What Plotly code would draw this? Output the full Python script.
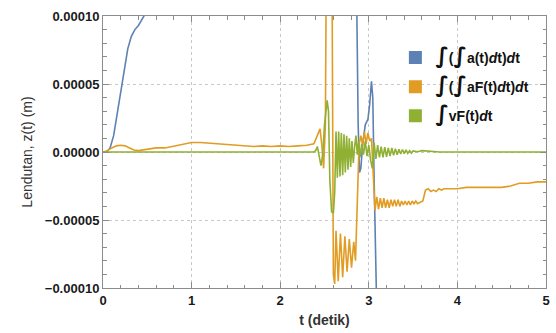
import plotly.graph_objects as go

# ---------------- data ----------------
t_blue = [0, 0.04, 0.08, 0.12, 0.16, 0.20, 0.24, 0.28, 0.32, 0.36, 0.40, 0.44, 0.48,
          0.55, 0.8, 1.5, 2.5, 2.8, 2.86, 2.88, 2.895, 2.91, 2.93, 2.96, 2.99, 3.01,
          3.03, 3.045, 3.06, 3.08, 3.1, 3.3, 5.0]
z_blue = [0, 0, 0.000003, 0.000012, 0.000028, 0.000045, 0.000062, 0.000076, 0.000085,
          0.00009, 0.000093, 0.000097, 0.000102, 0.00012, 0.0003, 0.0008, 0.0008, 0.0004,
          0.00013, 0.00002, -0.000015, -0.000012, 0.000005, 0.00002, 0.000024, 0.000035,
          0.000052, 0.00004, -0.00002, -0.0001, -0.0002, -0.0008, -0.0008]

t_orange = [0, 0.05, 0.1, 0.15, 0.2, 0.25, 0.3, 0.35, 0.4, 0.45, 0.5, 0.6, 0.7, 0.8, 0.9,
            1.0, 1.1, 1.2, 1.3, 1.4, 1.5, 1.6, 1.7, 1.8, 1.9, 2.0, 2.1, 2.2, 2.3, 2.38,
            2.42, 2.45, 2.47, 2.49, 2.51, 2.53, 2.56, 2.58, 2.6, 2.615, 2.63, 2.655, 2.68,
            2.705, 2.73, 2.755, 2.78, 2.805, 2.83, 2.85, 2.87, 2.89, 2.91, 2.93, 2.95,
            2.97, 2.99, 3.01, 3.03, 3.05, 3.07, 3.09, 3.11, 3.13, 3.15, 3.17, 3.19, 3.21,
            3.23, 3.25, 3.27, 3.29, 3.31, 3.33, 3.35, 3.37, 3.39, 3.41, 3.43, 3.45, 3.47,
            3.49, 3.51, 3.53, 3.55, 3.58, 3.61, 3.64, 3.67, 3.70, 3.73, 3.76, 3.79, 3.82,
            3.85, 3.9, 4.0, 4.1, 4.2, 4.3, 4.4, 4.5, 4.6, 4.7, 4.8, 4.9, 5.0]
z_orange = [0, 0.000001, 0.000003, 0.0000045, 0.000005, 0.0000045, 0.000003, 0.0000015,
            0.000001, 0.0000015, 0.000002, 0.000003, 0.000003, 0.0000045, 0.000006,
            0.000007, 0.000007, 0.0000065, 0.000006, 0.0000055, 0.000005, 0.000005,
            0.000004, 0.0000045, 0.000004, 0.0000045, 0.000004, 0.0000045, 0.000005,
            0.000006, 0.000012, 0.000017, 0.000005, -0.000012, 0.00002, 0.0005, 0.0006,
            0.0002, -0.00009, -0.000097, -0.000058, -0.000095, -0.00006, -0.000092,
            -0.000062, -0.000088, -0.000064, -0.000085, -0.000066, -0.00008, -0.00004,
            0.000005, 0.000012, 0.000005, 0.000015, 0.000006, 0.000014, 0.000008, 0.00001,
            -0.00002, -0.000043, -0.000033, -0.000042, -0.000034, -0.000041, -0.000034,
            -0.000041, -0.000035, -0.000041, -0.000035, -0.00004, -0.000035, -0.00004,
            -0.000035, -0.00004, -0.000036, -0.000039, -0.000036, -0.000039, -0.000036,
            -0.000039, -0.000036, -0.000038, -0.000036, -0.000038, -0.000037, -0.000036,
            -0.000028, -0.000027, -0.000029, -0.000028, -0.000029, -0.000027, -0.000028,
            -0.000027, -0.000027, -0.000027, -0.000026, -0.000026, -0.000026, -0.000026,
            -0.000026, -0.000025, -0.000023, -0.000023, -0.000022, -0.000022]

t_green = [0, 1.0, 2.0, 2.38, 2.40, 2.42, 2.44, 2.46, 2.48, 2.50, 2.53, 2.545, 2.56, 2.58,
           2.60, 2.615, 2.63, 2.645, 2.66, 2.675, 2.69, 2.705, 2.72, 2.735, 2.75, 2.765,
           2.78, 2.795, 2.81, 2.825, 2.84, 2.855, 2.87, 2.885, 2.90, 2.92, 2.94, 2.96,
           2.98, 3.00, 3.02, 3.04, 3.06, 3.08, 3.10, 3.12, 3.14, 3.16, 3.18, 3.20, 3.22,
           3.24, 3.26, 3.28, 3.30, 3.32, 3.34, 3.36, 3.38, 3.40, 3.42, 3.44, 3.46, 3.48,
           3.50, 3.55, 3.6, 3.7, 3.8, 5.0]
z_green = [0, 0, 0, 0, 0.000001, 0.000004, -0.000003, -0.00001, -0.000002, 0.00002,
           0.000038, 0.00003, -0.00002, -0.000044, -0.000045, -0.00003, 0.000015,
           -0.000019, 0.000015, -0.000018, 0.000014, -0.000017, 0.000013, -0.000015,
           0.000012, -0.000013, 0.00001, -0.000011, 0.000008, -0.000008, 0.000004,
           0.000012, -0.000002, 0.000008, -0.000004, 0.000006, -0.000002, 0.000008,
           -0.000003, 0.000005, -0.000006, -0.000012, 0.000007, -0.000005, 0.000005,
           -0.000004, 0.000004, -0.000004, 0.0000035, -0.0000035, 0.000003, -0.000003,
           0.000003, -0.0000025, 0.0000025, -0.000002, 0.000002, -0.0000015, 0.0000018,
           -0.0000012, 0.0000015, -0.000001, 0.000001, -0.0000008, 0.0000008, 0.0000002,
           0.000001, 0.0000005, 0, 0]

x_ticks = [0, 1, 2, 3, 4, 5]
y_ticks = [0.0001, 0.00005, 0, -0.00005, -0.0001]
y_ticktext = ["0.00010", "0.00005", "0.00000", "\u22120.00005", "\u22120.00010"]

INT = "<span style='font-size:22px;font-family:DejaVu Sans'>\u222b</span>"
series_names = [
    INT + "(" + INT + "a(t)<i>d</i>t)<i>d</i>t",
    INT + "(" + INT + "aF(t)<i>d</i>t)<i>d</i>t",
    INT + "vF(t)<i>d</i>t",
]
colors = ["#5E81B5", "#E19C24", "#8FB032"]

# ---------------- figure ----------------
fig = go.Figure()
for tt, zz, c in [(t_blue, z_blue, colors[0]), (t_orange, z_orange, colors[1]), (t_green, z_green, colors[2])]:
    fig.add_trace(go.Scatter(x=tt, y=zz, mode="lines", line=dict(color=c, width=1.6),
                             showlegend=False, hoverinfo="skip"))
for i, (name, c) in enumerate(zip(series_names, colors)):
    fig.add_trace(go.Scatter(x=[None], y=[None], mode="markers", name=name,
                             legendgroup=f"g{i}",
                             marker=dict(symbol="square", size=13, color=c)))

font_fam = "Liberation Sans, Arial, sans-serif"
axis_common = dict(
    showline=True, linecolor="#8c8c8c", linewidth=1, mirror="allticks",
    ticks="inside", ticklen=6, tickcolor="#8c8c8c", tickwidth=1,
    showgrid=True, gridcolor="#c8c8c8", griddash="dot", gridwidth=1,
    zeroline=False,
    tickfont=dict(family=font_fam, size=13, color="#1a1a1a", weight="bold"),
)

fig.update_xaxes(range=[0, 5], tickvals=x_ticks, ticktext=[str(v) for v in x_ticks],
                 minor=dict(dtick=0.2, ticks="inside", ticklen=3.5, tickcolor="#8c8c8c", showgrid=False),
                 title=dict(text="t (detik)", font=dict(family=font_fam, size=14, color="#333333", weight="bold"),
                            standoff=8),
                 **axis_common)
fig.update_yaxes(range=[-0.0001, 0.0001], tickvals=y_ticks, ticktext=y_ticktext,
                 minor=dict(dtick=0.00001, ticks="inside", ticklen=3.5, tickcolor="#8c8c8c", showgrid=False),
                 title=dict(text="Lendutan, z(t) (m)", font=dict(family=font_fam, size=14, color="#333333"),
                            standoff=8),
                 **axis_common)

fig.update_layout(
    width=556, height=333,
    margin=dict(l=103, r=6, t=16, b=45),
    paper_bgcolor="white", plot_bgcolor="white",
    legend=dict(x=0.66, y=0.905, xanchor="left", yanchor="top",
                bgcolor="rgba(0,0,0,0)", tracegroupgap=8, itemwidth=30,
                font=dict(family=font_fam, size=14, color="#111111", weight="bold")),
)

fig.write_html("out.html")
